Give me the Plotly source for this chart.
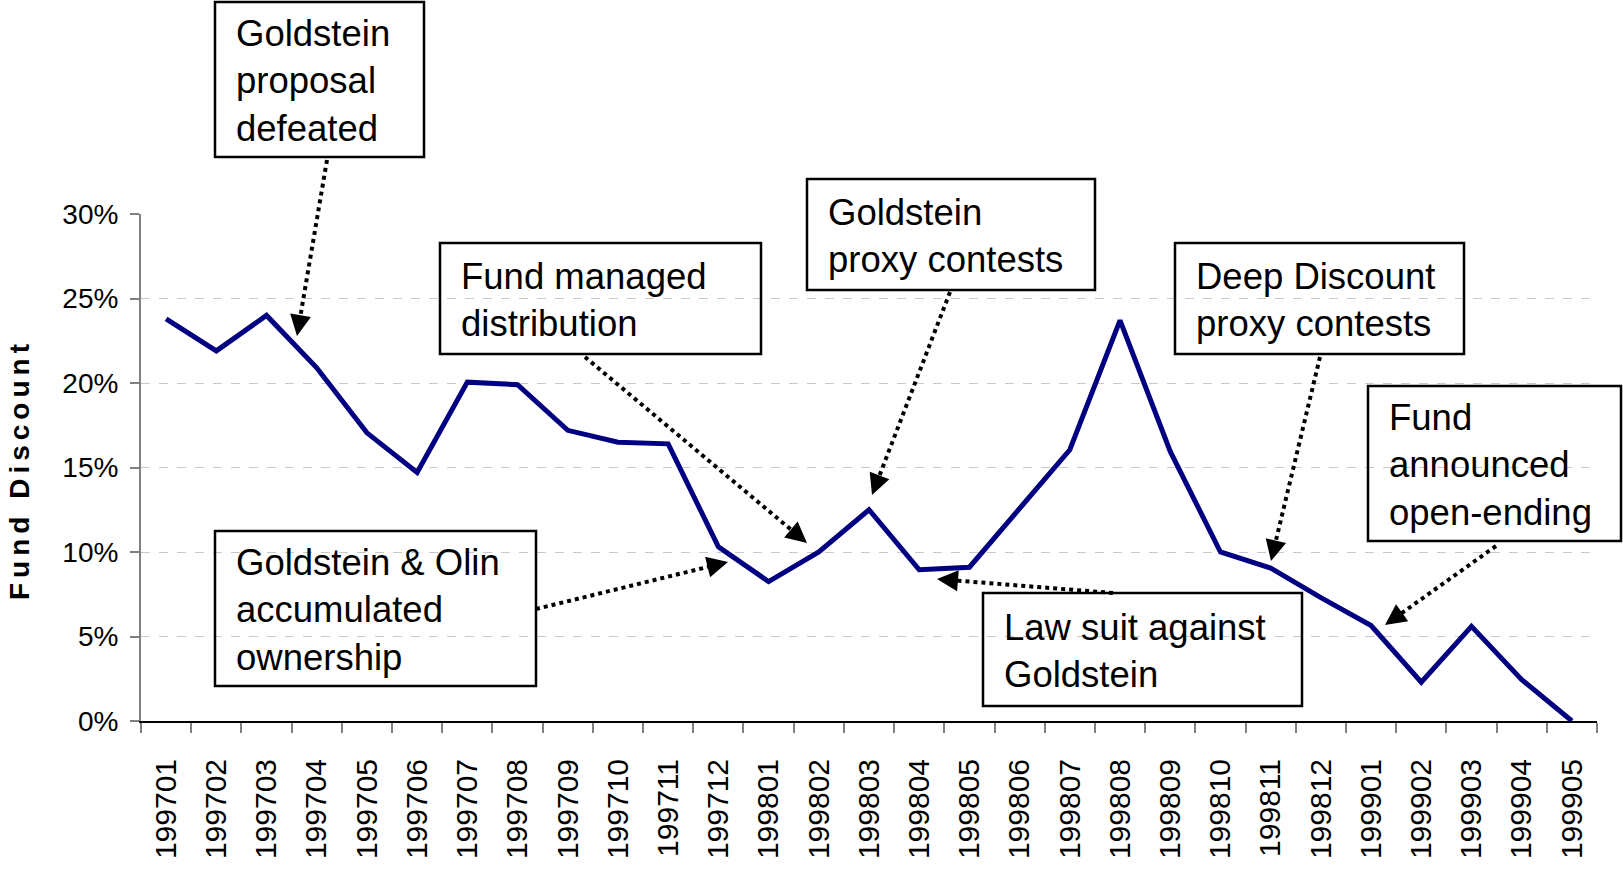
import plotly.graph_objects as go
import math

# ---------------- data ----------------
months = ["199701", "199702", "199703", "199704", "199705", "199706", "199707",
          "199708", "199709", "199710", "199711", "199712", "199801", "199802",
          "199803", "199804", "199805", "199806", "199807", "199808", "199809",
          "199810", "199811", "199812", "199901", "199902", "199903", "199904",
          "199905"]
discount_pct = [23.8, 21.9, 24.0, 20.9, 17.05, 14.7, 20.05, 19.9, 17.2, 16.5,
                16.4, 10.3, 8.25, 10.0, 12.5, 8.95, 9.1, 12.6, 16.05, 23.7,
                15.95, 10.0, 9.05, 7.3, 5.65, 2.3, 5.6, 2.45, 0.0]
discount = [v / 100.0 for v in discount_pct]

y_title = "Fund Discount"

annotation_texts = [
    "Goldstein<br>proposal<br>defeated",
    "Fund managed<br>distribution",
    "Goldstein<br>proxy contests",
    "Deep Discount<br>proxy contests",
    "Fund<br>announced<br>open-ending",
    "Goldstein & Olin<br>accumulated<br>ownership",
    "Law suit against<br>Goldstein",
]

# ---------------- layout geometry (pixels) ----------------
W, H = 1623, 877
L, R, T, B = 141, 26, 214, 156
PW, PH = W - L - R, H - T - B

def px(x):
    return (x - L) / PW

def py(y):
    return (H - B - y) / PH

# boxes: x0, y0, x1, y1 (pixels, y down)
boxes = [
    (215, 2, 424, 157),
    (440, 243, 761, 354),
    (807, 179, 1095, 290),
    (1175, 243, 1464, 354),
    (1368, 386, 1621, 541),
    (215, 531, 536, 686),
    (983, 593, 1302, 706),
]
# arrows: start (x, y), tip (x, y) in pixels
arrows = [
    ((327, 160), (297, 336)),
    ((585, 357), (807, 543)),
    ((950, 292), (872, 495)),
    ((1320, 357), (1271, 561)),
    ((1496, 546), (1385, 625)),
    ((536, 609), (728, 562)),
    ((1113, 593), (937, 579)),
]

FONT = "Liberation Sans, Arial, sans-serif"

fig = go.Figure()
fig.add_trace(go.Scatter(
    x=months, y=discount, mode="lines",
    line=dict(color="#000080", width=5),
    hoverinfo="skip", showlegend=False, cliponaxis=False,
))

annotations = []
shapes = []
for (x0, y0, x1, y1), txt in zip(boxes, annotation_texts):
    shapes.append(dict(
        type="rect", xref="paper", yref="paper",
        x0=px(x0), y0=py(y0), x1=px(x1), y1=py(y1),
        line=dict(color="#000000", width=2.5), fillcolor="rgba(0,0,0,0)",
        layer="above",
    ))
    annotations.append(dict(
        xref="paper", yref="paper", x=px(x0 + 19), y=py((y0 + y1) / 2.0 + 1),
        xanchor="left", yanchor="middle", showarrow=False,
        text=txt, align="left",
        font=dict(family=FONT, size=36.5, color="#000000"),
    ))

HEAD = 15
for (sx, sy), (tx, ty) in arrows:
    dx, dy = sx - tx, sy - ty
    d = math.hypot(dx, dy)
    ux, uy = dx / d, dy / d
    ex, ey = tx + ux * HEAD, ty + uy * HEAD
    shapes.append(dict(
        type="line", xref="paper", yref="paper",
        x0=px(sx), y0=py(sy), x1=px(ex), y1=py(ey),
        line=dict(color="#000000", width=4, dash="dot"), layer="above",
    ))
    annotations.append(dict(
        xref="paper", yref="paper", x=px(tx), y=py(ty),
        ax=ux * (HEAD + 2), ay=uy * (HEAD + 2), axref="pixel", ayref="pixel",
        text="", showarrow=True, arrowhead=2, arrowsize=1.4, arrowwidth=3,
        arrowcolor="#000000", standoff=0,
    ))

annotations.append(dict(
    xref="paper", yref="paper", x=px(19), y=py(470),
    text='<b><span style="letter-spacing:5px">' + y_title + '</span></b>',
    textangle=-90, showarrow=False, xanchor="center", yanchor="middle",
    font=dict(family=FONT, size=28, color="#000000"),
))

fig.update_layout(
    width=W, height=H,
    margin=dict(l=L, r=R, t=T, b=B, pad=0),
    paper_bgcolor="white", plot_bgcolor="white",
    annotations=annotations, shapes=shapes,
    showlegend=False,
)
fig.update_xaxes(
    type="category", range=[-0.5, len(months) - 0.5],
    showline=True, linecolor="#000000", linewidth=2,
    ticks="outside", tickson="boundaries", ticklen=10, tickwidth=2, tickcolor="#808080",
    tickangle=-90, ticklabelstandoff=24,
    tickfont=dict(family=FONT, size=30, color="#000000"),
    showgrid=False, zeroline=False, fixedrange=True,
)
fig.update_yaxes(
    range=[0, 0.30], dtick=0.05, tick0=0, tickformat=".0%",
    showline=True, linecolor="#808080", linewidth=2,
    ticks="outside", ticklen=9, tickwidth=2, tickcolor="#808080",
    ticklabelstandoff=6,
    tickfont=dict(family=FONT, size=28, color="#000000"),
    showgrid=True, gridcolor="#c8c8c8", gridwidth=1, griddash="dash",
    zeroline=False, fixedrange=True,
)

fig.write_html(
    "out.html", config={"displayModeBar": False},
    post_script="document.body.style.margin='0';document.body.style.overflow='hidden';",
)
